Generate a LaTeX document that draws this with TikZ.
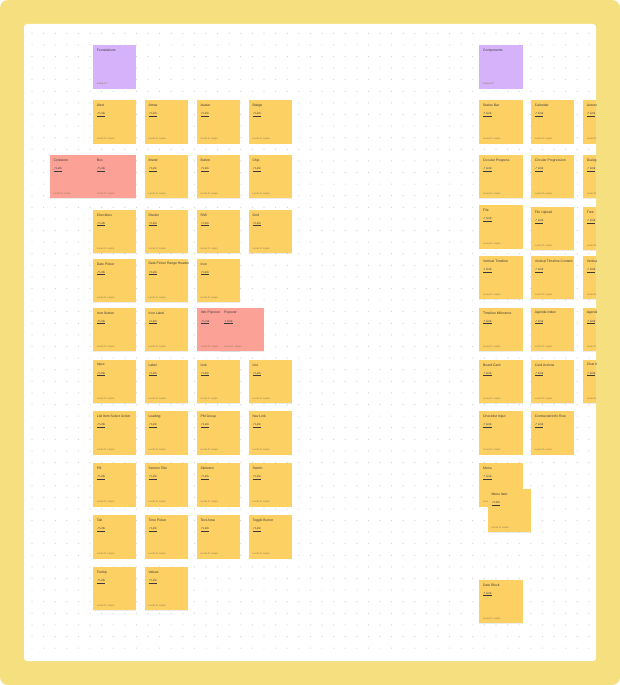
\documentclass[tikz,border=0pt]{standalone}
\usepackage{fontspec}
\setmainfont{Liberation Sans}
\newfontfamily\symfont{DejaVu Sans}
\usetikzlibrary{positioning,shadows}

\definecolor{frame}{HTML}{F5DF7E}
\definecolor{note}{HTML}{FDD064}
\definecolor{notered}{HTML}{FCA196}
\definecolor{notepurple}{HTML}{D5B2FA}
\definecolor{griddot}{HTML}{CFCFCF}
\definecolor{ink}{HTML}{3A3A3A}
\definecolor{faint}{HTML}{8A7A50}

\tikzset{
  card/.style={fill=#1, minimum width=43.3pt, minimum height=43.3pt, inner sep=0pt,
    anchor=north west, drop shadow={shadow xshift=0pt, shadow yshift=-0.8pt, opacity=0.15}},
  cardtitle/.style={anchor=west, inner sep=0pt, text=ink, font=\fontsize{3.4}{4}\selectfont},
  cardlink/.style={anchor=west, inner sep=0pt, text=ink, font=\fontsize{3}{4}\selectfont},
  cardfoot/.style={anchor=west, inner sep=0pt, text=faint, font=\fontsize{2.5}{3}\selectfont}
}

\newcommand{\linkicon}{\underline{{\symfont\fontsize{2.8}{3}\selectfont ↗}\,Link}}

\newcommand{\card}[5][note]{%
  \node[card=#1] (#2) at (#3,#4) {};
  \node[cardtitle] (#2-t) at ([xshift=4pt,yshift=-5.7pt]#2.north west) {#5};
  \node[cardlink] (#2-l) at ([xshift=4pt,yshift=-14.7pt]#2.north west) {\linkicon};
  \node[cardfoot] (#2-f) at ([xshift=4pt,yshift=4.6pt]#2.south west) {Lucas D. Lopes};
}

\newcommand{\groupcard}[5]{%
  \node[card=notepurple] (#1) at (#2,#3) {};
  \node[cardtitle] (#1-t) at ([xshift=4pt,yshift=-5.7pt]#1.north west) {#4};
  \node[cardfoot] (#1-f) at ([xshift=4pt,yshift=5pt]#1.south west) {#5};
}

\begin{document}
\begin{tikzpicture}[x=1pt,y=-1pt]
  \useasboundingbox (0,0) rectangle (620,685);
  \fill[white] (0,0) rectangle (620,685);
  \fill[frame, rounded corners=8pt] (0,0) rectangle (620,685);
  \fill[white, rounded corners=3pt] (24,24) rectangle (596,661);

  % dot grid
  \foreach \i in {0,...,48}
    \foreach \j in {0,...,53}
      \fill[griddot] (32+11.6*\i,33.3+11.6*\j) circle (0.6);

  \begin{scope}
    \clip[rounded corners=3pt] (24,24) rectangle (596,661);

    % foundations
    \groupcard{found}{92.7}{45}{Foundations}{Setup 1/7}
    \foreach \nm/\px/\py/\ttl in {
      alert/92.7/100/Alert, arrow/144.3/100/Arrow, avatar/196.3/100/Avatar, badge/248.3/100/Badge,
      brand/144.3/154.7/Brand, button/196.3/154.7/Button, chip/248.3/154.7/Chip,
      checkbox/92.7/209.3/Checkbox, divider/144.3/209.3/Divider, fab/196.3/209.3/FAB, grid/248.3/209.3/Grid,
      datepicker/92.7/258.3/Date Picker, rangeheader/144.3/258.3/Date Picker Range Header, icon/196.3/258.3/Icon,
      iconbutton/92.7/307.3/Icon Button, iconlabel/144.3/307.3/Icon Label,
      input/92.7/359.3/Input, label/144.3/359.3/Label, link/196.3/359.3/Link, list/248.3/359.3/List,
      listitem/92.7/411/List Item Select Action, loading/144.3/411/Loading, pmgroup/196.3/411/PM Group, navlink/248.3/411/Nav Link,
      pill/92.7/463/Pill, sectiontitle/144.3/463/Section Title, skeleton/196.3/463/Skeleton, switch/248.3/463/Switch,
      tab/92.7/515/Tab, timepicker/144.3/515/Time Picker, textarea/196.3/515/Text Area, toggle/248.3/515/Toggle Button,
      tooltip/92.7/566.7/Tooltip, values/144.3/566.7/Values}
      \card{\nm}{\px}{\py}{\ttl};
    \foreach \nm/\px/\py/\ttl in {
      container/49.3/154.7/Container, box/92.7/154.7/Box,
      infopop/196.7/307.3/Info Popover, popover/220/307.3/Popover}
      \card[notered]{\nm}{\px}{\py}{\ttl};

    % components
    \groupcard{comp}{479}{45}{Components}{Setup 4/7}
    \foreach \nm/\px/\py/\ttl in {
      statusbar/479/100/Status Bar, calendar/530.7/100/Calendar, autocomplete/582.7/100/Autocomplete,
      circprog/479/154.7/Circular Progress, circprogicon/530.7/154.7/Circular Progression, dialog/582.7/154.7/Dialog,
      file/479/205/File, fileupload/530.7/206.7/File Upload, tree/582.7/206.7/Tree,
      vtimeline/479/255.7/Vertical Timeline, vtcontent/530.7/255.7/Vertical Timeline Content, vstepper/582.7/255.7/Vertical Stepper,
      milestone/479/307.3/Timeline Milestone, agendaindex/530.7/307.3/Agenda Index, agendaitem/582.7/307.3/Agenda Item,
      boardcard/479/359.3/Board Card, cardactions/530.7/359.3/Card Actions, chatinput/582.7/359.3/Chat Input,
      checklist/479/411/Checklist Input, inforow/530.7/411/Contracted Info Row,
      menu/479/463/Menu, menuitem/487.3/488.7/Menu Item,
      dateblock/479/579.3/Date Block}
      \card{\nm}{\px}{\py}{\ttl};
  \end{scope}
\end{tikzpicture}
\end{document}
